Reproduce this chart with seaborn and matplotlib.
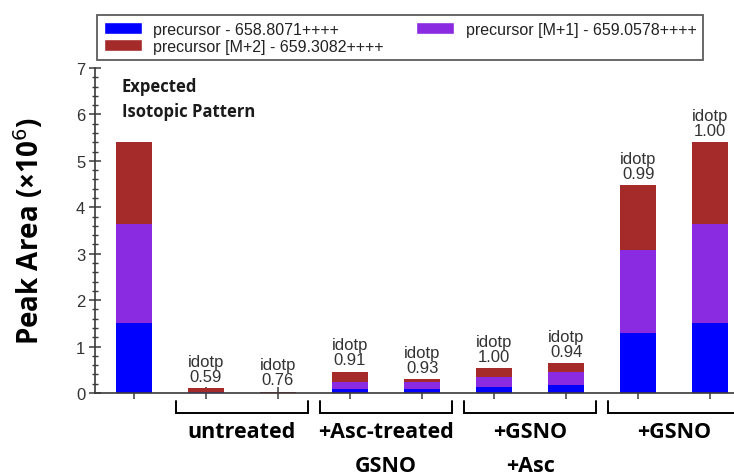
import matplotlib
matplotlib.use("Agg")
import matplotlib.pyplot as plt
import matplotlib.transforms as mtransforms
from matplotlib.patches import Patch
from matplotlib.ticker import MultipleLocator
import pandas as pd
import seaborn as sns

# Peak areas (x10^6) per isotope for each replicate
samples = ["Expected", "untreated 1", "untreated 2", "Asc-GSNO 1", "Asc-GSNO 2",
           "GSNO+Asc 1", "GSNO+Asc 2", "GSNO 1", "GSNO 2"]
m0 = [1.51, 0.010, 0.004, 0.09, 0.09, 0.14, 0.17, 1.30, 1.51]
m1 = [2.12, 0.020, 0.006, 0.14, 0.14, 0.20, 0.29, 1.78, 2.12]
m2 = [1.77, 0.080, 0.020, 0.23, 0.07, 0.20, 0.18, 1.40, 1.77]
idotp = [None, 0.59, 0.76, 0.91, 0.93, 1.00, 0.94, 0.99, 1.00]

series_labels = ["precursor - 658.8071++++",
                 "precursor [M+1] - 659.0578++++",
                 "precursor [M+2] - 659.3082++++"]
series_colors = ["#0000FF", "#8A2BE2", "#A52A2A"]

group_labels = ["untreated", "+Asc-treated\nGSNO", "+GSNO\n+Asc", "+GSNO"]
group_members = [(1, 2), (3, 4), (5, 6), (7, 8)]

df = pd.DataFrame({"sample": samples, "m0": m0, "m1": m1, "m2": m2})
df["s1"] = df["m0"] + df["m1"]
df["total"] = df["s1"] + df["m2"]

sns.set_style("white")
plt.rcParams["font.family"] = ["Liberation Sans", "DejaVu Sans"]

fig = plt.figure(figsize=(7.34, 4.77), dpi=100)
ax = fig.add_axes([95 / 734, 1 - 394 / 477, 639 / 734, 325 / 477])

# stacked bars: draw cumulative heights from the top layer down
for col, color in [("total", series_colors[2]), ("s1", series_colors[1]), ("m0", series_colors[0])]:
    sns.barplot(data=df, x="sample", y=col, order=samples, color=color,
                saturation=1, width=0.5, linewidth=0, ax=ax)

ax.set_xlim(-0.54, 8.33)
ax.set_ylim(0, 7)
ax.set_xlabel("")
ax.set_xticks(range(len(samples)))
ax.set_xticklabels([])
ax.yaxis.set_major_locator(MultipleLocator(1))
ax.yaxis.set_minor_locator(MultipleLocator(0.2))

axis_color = "#3a3a3a"
for side in ["top", "right"]:
    ax.spines[side].set_visible(False)
for side in ["left", "bottom"]:
    ax.spines[side].set_color(axis_color)
    ax.spines[side].set_linewidth(1.2)

ax.tick_params(axis="y", which="major", direction="inout", length=8, width=1.1,
               color=axis_color, labelsize=12, labelcolor="#333333", pad=3, left=True)
ax.tick_params(axis="y", which="minor", direction="inout", length=4, width=1.0,
               color=axis_color, left=True)
ax.tick_params(axis="x", which="major", direction="inout", length=8, width=1.1,
               color=axis_color, bottom=True)

ax.set_ylabel("Peak Area (×10$^{6}$)", fontsize=20, fontweight="bold",
              family=["Open Sans", "DejaVu Sans"], color="black")
ax.yaxis.set_label_coords(-0.077, 0.5)

# idotp annotations above each measured bar
for i, (tot, v) in enumerate(zip(df["total"], idotp)):
    if v is None:
        continue
    ax.annotate(f"idotp\n{v:.2f}", xy=(i, tot), xytext=(0, 3), textcoords="offset points",
                ha="center", va="bottom", fontsize=12, color="#333333", linespacing=1.0)

# expected pattern caption
for k, line in enumerate(["Expected", "Isotopic Pattern"]):
    ax.text(-0.167, 6.62 - k * 0.54, line, ha="left", va="center", fontsize=12,
            fontweight="bold", family=["Open Sans", "DejaVu Sans"], color="#1a1a1a")

# group brackets and labels below the axis
trans = mtransforms.blended_transform_factory(ax.transData, ax.transAxes)
for label, (a, b) in zip(group_labels, group_members):
    c = (a + b) / 2
    x0, x1 = c - 0.92, c + 0.92
    ax.plot([x0, x0, x1, x1], [-0.025, -0.062, -0.062, -0.025], color="black",
            lw=1.4, transform=trans, clip_on=False, solid_joinstyle="miter")
    for k, line in enumerate(label.split("\n")):
        ax.text(c, -0.120 - k * 0.104, line, transform=trans, ha="center", va="center",
                fontsize=15.5, fontweight="bold", family=["Open Sans", "DejaVu Sans"],
                color="black")

handles = [Patch(facecolor=series_colors[0], label=series_labels[0]),
           Patch(facecolor=series_colors[2], label=series_labels[2]),
           Patch(facecolor=series_colors[1], label=series_labels[1])]
leg = fig.legend(handles=handles, loc="upper left", ncol=2, mode="expand",
                 bbox_to_anchor=(97 / 734, 1 - 60 / 477, 606 / 734, 44 / 477),
                 fontsize=11.5, frameon=True, fancybox=False, shadow=False,
                 handlelength=2.4, handleheight=0.75, handletextpad=0.7,
                 borderpad=0.42, labelspacing=0.12, borderaxespad=0)
leg.get_frame().set_edgecolor("#333333")
leg.get_frame().set_linewidth(1.3)
for t in leg.get_texts():
    t.set_color("#222222")

fig.savefig("out.png", dpi=100, facecolor="white")
